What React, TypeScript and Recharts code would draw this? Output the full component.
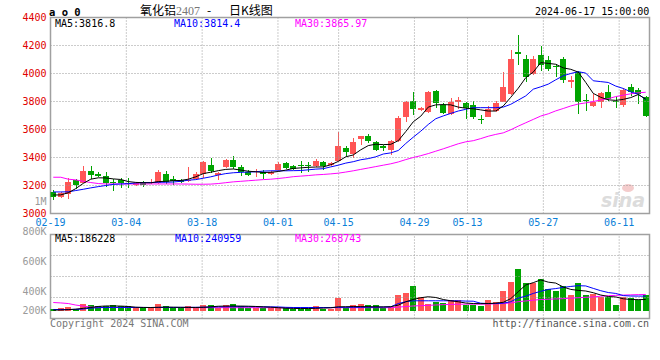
import { Bar, ComposedChart, Line, XAxis, YAxis } from "recharts"

// trading days of the 2407 contract, Feb 19 .. Jun 17
const dates = [
  "02-19", "02-20", "02-21", "02-22", "02-23",
  "02-26", "02-27", "02-28", "02-29", "03-01",
  "03-04", "03-05", "03-06", "03-07", "03-08",
  "03-11", "03-12", "03-13", "03-14", "03-15",
  "03-18", "03-19", "03-20", "03-21", "03-22",
  "03-25", "03-26", "03-27", "03-28", "03-29",
  "04-01", "04-02", "04-03",
  "04-08", "04-09", "04-10", "04-11", "04-12",
  "04-15", "04-16", "04-17", "04-18", "04-19",
  "04-22", "04-23", "04-24", "04-25", "04-26",
  "04-29", "04-30",
  "05-06", "05-07", "05-08", "05-09", "05-10",
  "05-13", "05-14", "05-15", "05-16", "05-17",
  "05-20", "05-21", "05-22", "05-23", "05-24",
  "05-27", "05-28", "05-29", "05-30", "05-31",
  "06-03", "06-04", "06-05", "06-06", "06-07",
  "06-11", "06-12", "06-13", "06-14",
  "06-17",
]
const tickDates = ["02-19", "03-04", "03-18", "04-01", "04-15", "04-29", "05-13", "05-27", "06-11"]

const open = [
  3152, 3120, 3139, 3240, 3221, 3305, 3283, 3269, 3228, 3240,
  3221, 3204, 3228, 3216, 3216, 3283, 3247, 3240, 3235, 3247,
  3281, 3348, 3272, 3331, 3384, 3329, 3293, 3293, 3300, 3281,
  3312, 3360, 3341, 3348, 3348, 3336, 3367, 3348, 3377, 3468,
  3427, 3533, 3557, 3509, 3485, 3451, 3516, 3691, 3804, 3738,
  3725, 3874, 3773, 3708, 3797, 3787, 3773, 3677, 3691, 3732,
  3797, 3852, 4152, 4104, 3996, 4133, 4097, 4056, 4104, 3936,
  4008, 3811, 3768, 3797, 3869, 3804, 3773, 3905, 3885, 3835,
]
const high = [
  3170, 3156, 3252, 3247, 3336, 3336, 3300, 3298, 3247, 3254,
  3252, 3228, 3235, 3245, 3312, 3305, 3271, 3247, 3329, 3300,
  3372, 3396, 3293, 3389, 3408, 3348, 3312, 3317, 3312, 3307,
  3365, 3365, 3348, 3377, 3367, 3389, 3377, 3367, 3581, 3485,
  3540, 3557, 3571, 3516, 3492, 3528, 3696, 3804, 3869, 3760,
  3878, 3881, 3787, 3823, 3833, 3799, 3804, 3701, 3768, 3804,
  4008, 4171, 4277, 4133, 4123, 4200, 4123, 4068, 4121, 3984,
  4020, 3852, 3852, 3871, 3917, 3840, 3900, 3925, 3900, 3840,
]
const low = [
  3098, 3108, 3101, 3173, 3216, 3247, 3264, 3192, 3163, 3185,
  3180, 3197, 3192, 3211, 3211, 3211, 3204, 3221, 3228, 3240,
  3252, 3288, 3240, 3324, 3317, 3271, 3269, 3264, 3247, 3276,
  3305, 3317, 3310, 3288, 3295, 3329, 3310, 3341, 3372, 3408,
  3396, 3492, 3504, 3450, 3444, 3420, 3511, 3653, 3701, 3730,
  3718, 3754, 3710, 3701, 3749, 3672, 3677, 3641, 3689, 3725,
  3797, 3845, 4061, 3941, 3991, 4020, 4020, 3972, 3931, 3893,
  3713, 3732, 3763, 3751, 3804, 3756, 3762, 3840, 3785, 3688,
]
const close = [
  3121, 3144, 3228, 3204, 3305, 3276, 3269, 3221, 3216, 3221,
  3211, 3216, 3204, 3226, 3300, 3228, 3235, 3228, 3242, 3283,
  3365, 3307, 3286, 3384, 3331, 3293, 3276, 3305, 3283, 3298,
  3355, 3322, 3317, 3341, 3336, 3377, 3336, 3360, 3485, 3437,
  3511, 3552, 3516, 3456, 3468, 3516, 3684, 3799, 3744, 3752,
  3869, 3787, 3720, 3797, 3811, 3756, 3689, 3672, 3749, 3787,
  3905, 4104, 4142, 3972, 4104, 4061, 4032, 4049, 3955, 3955,
  3797, 3802, 3797, 3864, 3816, 3797, 3880, 3870, 3855, 3695,
]
const ma5 = [
  3132, 3133, 3148, 3178, 3215, 3245, 3255, 3254, 3247, 3243,
  3228, 3222, 3220, 3219, 3228, 3230, 3235, 3236, 3245, 3262,
  3285, 3295, 3306, 3315, 3318, 3310, 3302, 3298, 3293, 3294,
  3300, 3310, 3322, 3326, 3330, 3332, 3333, 3348, 3372, 3405,
  3418, 3455, 3485, 3495, 3492, 3494, 3520, 3585, 3655, 3695,
  3760, 3776, 3778, 3776, 3760, 3752, 3748, 3740, 3732, 3732,
  3768, 3830, 3895, 3970, 4010, 4078, 4072, 4066, 4040, 4030,
  4010, 3936, 3858, 3830, 3812, 3808, 3815, 3828, 3850, 3816.8,
]
const ma10 = [
  3154, 3154, 3155, 3164, 3173, 3183, 3192, 3200, 3208, 3211,
  3213, 3218, 3221, 3221, 3223, 3223, 3225, 3230, 3238, 3242,
  3252, 3262, 3275, 3285, 3291, 3294, 3296, 3298, 3303, 3305,
  3305, 3305, 3306, 3307, 3312, 3317, 3320, 3333, 3345, 3360,
  3370, 3384, 3392, 3405, 3425, 3433, 3450, 3500, 3545, 3588,
  3636, 3677, 3697, 3715, 3732, 3744, 3756, 3756, 3756, 3756,
  3760, 3780, 3810, 3840, 3888, 3905, 3924, 3955, 3984, 4000,
  4013, 4003, 3948, 3942, 3936, 3910, 3893, 3869, 3852, 3814.4,
]
const ma30 = [
  3259, 3259, 3245, 3240, 3230, 3221, 3214, 3211, 3211, 3211,
  3211, 3211, 3211, 3211, 3211, 3211, 3211, 3211, 3210, 3209,
  3209, 3210, 3214, 3220, 3226, 3230, 3234, 3238, 3242, 3245,
  3250, 3256, 3263, 3267, 3271, 3276, 3279, 3283, 3288, 3296,
  3305, 3315, 3325, 3335, 3345, 3355, 3368, 3385, 3400, 3413,
  3428, 3445, 3462, 3480, 3498, 3512, 3520, 3535, 3552, 3565,
  3576, 3598, 3624, 3648, 3672, 3696, 3712, 3733, 3750, 3768,
  3782, 3790, 3800, 3811, 3820, 3835, 3845, 3855, 3862, 3865.97,
]

// volume in lots
const volume = [
  28000, 54000, 61000, 38000, 120000, 104000, 78000, 87000, 94000, 78000,
  78000, 50000, 50000, 50000, 120000, 78000, 50000, 50000, 87000, 50000,
  94000, 104000, 50000, 104000, 120000, 87000, 50000, 50000, 50000, 50000,
  50000, 50000, 38000, 38000, 38000, 78000, 38000, 38000, 215000, 54000,
  94000, 110000, 104000, 94000, 54000, 66000, 259000, 297000, 408000, 219000,
  110000, 148000, 132000, 177000, 177000, 104000, 104000, 78000, 177000, 148000,
  330000, 478000, 688000, 462000, 462000, 523000, 358000, 330000, 408000, 259000,
  462000, 259000, 276000, 219000, 231000, 94000, 219000, 203000, 186000, 259000,
]
const volMa5 = [
  12000, 14000, 20000, 28000, 42000, 55000, 72000, 80000, 80000, 78000,
  72000, 60000, 56000, 55000, 58000, 62000, 60000, 58000, 56000, 56000,
  58000, 66000, 76000, 78000, 80000, 78000, 76000, 72000, 66000, 60000,
  52000, 44000, 40000, 38000, 38000, 42000, 46000, 50000, 66000, 68000,
  70000, 70000, 68000, 66000, 65000, 68000, 94000, 149000, 186000, 215000,
  231000, 219000, 186000, 165000, 149000, 128000, 120000, 118000, 120000, 126000,
  140000, 200000, 314000, 424000, 462000, 507000, 470000, 455000, 390000, 351000,
  335000, 325000, 297000, 259000, 235000, 228000, 198000, 186000, 184000, 186228,
]
const volMa10 = [
  22000, 22000, 22000, 24000, 30000, 45000, 52000, 55000, 56000, 56000,
  56000, 56000, 56000, 55000, 56000, 56000, 56000, 57000, 58000, 58000,
  60000, 62000, 66000, 66000, 68000, 68000, 68000, 68000, 66000, 66000,
  64000, 58000, 55000, 55000, 55000, 55000, 55000, 55000, 58000, 58000,
  58000, 58000, 60000, 60000, 62000, 66000, 120000, 150000, 165000, 165000,
  165000, 165000, 165000, 165000, 165000, 160000, 158000, 125000, 120000, 120000,
  125000, 150000, 210000, 240000, 285000, 320000, 351000, 365000, 384000, 400000,
  412000, 408000, 368000, 330000, 300000, 285000, 250000, 243000, 242000, 240959,
]
const volMa30 = [
  137000, 130000, 120000, 95000, 78000, 62000, 56000, 55000, 55000, 55000,
  55000, 55000, 55000, 55000, 55000, 55000, 55000, 54000, 53000, 52000,
  52000, 52000, 52000, 52000, 52000, 52000, 52000, 52000, 52000, 52000,
  52000, 52000, 52000, 52000, 52000, 52000, 52000, 52000, 52000, 52000,
  52000, 52000, 52000, 52000, 52000, 52000, 62000, 70000, 80000, 85000,
  90000, 96000, 102000, 106000, 108000, 110000, 110000, 110000, 112000, 115000,
  120000, 130000, 150000, 162000, 175000, 186000, 190000, 195000, 200000, 208000,
  215000, 222000, 228000, 240000, 248000, 254000, 258000, 262000, 266000, 268743,
]

const priceTicks = [4400, 4200, 4000, 3800, 3600, 3400, 3200, 3000]
const priceGrid = [4200, 4000, 3800, 3600, 3400, 3200]
const volLabels = [1000000, 800000, 600000, 400000, 200000]

const RED = "#ff5555"
const GREEN = "#00a400"
const MONO = "'DejaVu Sans Mono', monospace"
const GRID = "#999999"
const DASH = "1 2"
const BODY = 6

const priceDomain = [3000, 4400]
const volDomain = [-125000, 1250000]
const volGrid = [1, 2, 3].map((k) => volDomain[1] - (k * (volDomain[1] - volDomain[0])) / 4)
const tickIdx = tickDates.map((d) => dates.indexOf(d))
const last = dates.length - 1
// candles sit on their own axis; date labels use a 0..last axis spanning the same width
const kDomain = [-0.37, dates.length - 0.5]
const toK = (t: number) => kDomain[0] + (t * (kDomain[1] - kDomain[0])) / last

const rows = dates.map((d, i) => ({
  i,
  date: d,
  open: open[i],
  high: high[i],
  low: low[i],
  close: close[i],
  ma5: ma5[i],
  ma10: ma10[i],
  ma30: ma30[i],
  vol: volume[i],
  vma5: volMa5[i],
  vma10: volMa10[i],
  vma30: volMa30[i],
}))

// grid segments expressed on the candle axis
const hSeg = (v: number) => [
  { i: kDomain[0], v },
  { i: kDomain[1], v },
]
const vSeg = (t: number, dom: number[]) => [
  { i: toK(t), v: dom[0] },
  { i: toK(t), v: dom[1] },
]

function Candle(props: any) {
  const { x, y, width, height, payload } = props
  const top = Math.min(y, y + height)
  const bottom = Math.max(y, y + height)
  const span = payload.high - payload.low
  const k = span > 0 ? (bottom - top) / span : 0
  const py = (v: number) => top + (payload.high - v) * k
  const up = payload.close >= payload.open
  const color = up ? RED : GREEN
  const cx = Math.round(x + (width || 0) / 2) + 0.5
  const bTop = py(Math.max(payload.open, payload.close))
  const bBot = py(Math.min(payload.open, payload.close))
  return (
    <g shapeRendering="crispEdges">
      <line x1={cx} x2={cx} y1={top} y2={bottom} stroke={color} strokeWidth={1} />
      <rect x={cx - 3.5} y={bTop} width={BODY} height={Math.max(1, bBot - bTop)} fill={color} />
    </g>
  )
}

function VolBar(props: any) {
  const { x, y, width, height, payload } = props
  const cx = Math.round(x + (width || 0) / 2) + 0.5
  return (
    <rect
      x={cx - 3.5}
      y={Math.min(y, y + height)}
      width={BODY}
      height={Math.abs(height)}
      fill={payload.close >= payload.open ? RED : GREEN}
      shapeRendering="crispEdges"
    />
  )
}

function fmtVol(v: number) {
  return v >= 1000000 ? v / 1000000 + "M" : v / 1000 + "K"
}

// y is in the volume chart's own coordinates; the lowest label sits on the panel floor
function VolTick(props: any) {
  const { x, y, payload } = props
  return (
    <text x={x} y={Math.min(y, 120)} dy="0.355em" textAnchor="end" fill="#9a9a9a" fontSize={10} fontFamily={MONO}>
      {fmtVol(payload.value)}
    </text>
  )
}

function gridLines(yAxisId: string, hValues: number[], dom: number[]) {
  const segs = [...hValues.map((v) => hSeg(v)), ...tickIdx.slice(1).map((t) => vSeg(t, dom))]
  return segs.map((seg, n) => (
    <Line
      key={yAxisId + n}
      xAxisId="k"
      yAxisId={yAxisId}
      data={seg}
      dataKey="v"
      stroke={GRID}
      strokeDasharray={DASH}
      strokeWidth={1}
      dot={false}
      isAnimationActive={false}
    />
  ))
}

function PriceChart() {
  return (
    <ComposedChart width={660} height={240} data={rows} margin={{ top: 17.5, right: 10.5, bottom: 6.5, left: 0 }}>
      <XAxis
        xAxisId="grid"
        type="number"
        dataKey="i"
        domain={[0, last]}
        ticks={tickIdx}
        interval={0}
        tickFormatter={(v) => dates[v]}
        height={20}
        tickSize={0}
        tickMargin={5}
        axisLine={false}
        tickLine={false}
        tick={{ fill: "#0a80d8", fontSize: 10, fontFamily: MONO }}
      />
      <XAxis xAxisId="k" type="number" dataKey="i" domain={kDomain} hide allowDataOverflow />
      <YAxis
        yAxisId="price"
        domain={priceDomain}
        ticks={priceTicks}
        interval={0}
        width={50.5}
        tickSize={0}
        tickMargin={4}
        axisLine={false}
        tickLine={false}
        allowDataOverflow
        tick={{ fill: "#e00000", fontSize: 10, fontFamily: MONO }}
      />
      {gridLines("price", priceGrid, priceDomain)}
      <Bar
        xAxisId="k"
        yAxisId="price"
        dataKey={(d: any) => [d.low, d.high]}
        barSize={BODY}
        shape={(p: any) => <Candle {...p} />}
        isAnimationActive={false}
      />
      <Line xAxisId="k" yAxisId="price" dataKey="ma30" stroke="#ff00ff" dot={false} strokeWidth={1} isAnimationActive={false} />
      <Line xAxisId="k" yAxisId="price" dataKey="ma10" stroke="#0000ff" dot={false} strokeWidth={1} isAnimationActive={false} />
      <Line xAxisId="k" yAxisId="price" dataKey="ma5" stroke="#000000" dot={false} strokeWidth={1} isAnimationActive={false} />
    </ComposedChart>
  )
}

function VolumeChart() {
  return (
    <ComposedChart width={660} height={140} data={rows} margin={{ top: 44.5, right: 10.5, bottom: 11.5, left: 0 }}>
      <XAxis xAxisId="k" type="number" dataKey="i" domain={kDomain} hide allowDataOverflow />
      <YAxis yAxisId="vol" domain={volDomain} hide allowDataOverflow />
      <YAxis
        yAxisId="lab"
        domain={[216667, 776667]}
        ticks={volLabels}
        interval={0}
        width={50.5}
        tickSize={0}
        tickMargin={4}
        axisLine={false}
        tickLine={false}
        allowDataOverflow
        tick={(p: any) => <VolTick {...p} />}
      />
      {gridLines("vol", volGrid, volDomain)}
      <Bar
        xAxisId="k"
        yAxisId="vol"
        dataKey="vol"
        barSize={BODY}
        shape={(p: any) => <VolBar {...p} />}
        isAnimationActive={false}
      />
      <Line xAxisId="k" yAxisId="vol" dataKey="vma30" stroke="#ff00ff" dot={false} strokeWidth={1} isAnimationActive={false} />
      <Line xAxisId="k" yAxisId="vol" dataKey="vma10" stroke="#0000ff" dot={false} strokeWidth={1} isAnimationActive={false} />
      <Line xAxisId="k" yAxisId="vol" dataKey="vma5" stroke="#000000" dot={false} strokeWidth={1} isAnimationActive={false} />
    </ComposedChart>
  )
}

export default function App() {
  const n = dates.length - 1
  return (
    <div style={{ position: "absolute", left: 0, top: 0, width: 660, height: 360, background: "#fff", overflow: "hidden" }}>
      <svg width={660} height={360} style={{ position: "absolute", left: 0, top: 0 }}>
        <g fill="none" stroke="#a0a0a0" strokeWidth={1.5}>
          <rect x={50.5} y={17.5} width={599} height={196} />
          <rect x={50.5} y={234.5} width={599} height={84} />
        </g>
        <text x={49} y={16} fontFamily={MONO} fontSize={10.5} fontWeight="bold" fill="#000">a o 0</text>
        <text y={15} fontSize={12} fill="#000">
          <tspan x={140} fontFamily="'Noto Sans CJK SC', sans-serif">氧化铝</tspan>
          <tspan fontFamily="'Liberation Serif', serif" fill="#777">2407</tspan>
          <tspan x={207} fontFamily="'Noto Sans CJK SC', sans-serif">-</tspan>
          <tspan x={229} fontFamily="'Noto Sans CJK SC', sans-serif">日K线图</tspan>
        </text>
        <text x={535} y={15} fontFamily={MONO} fontSize={10} fill="#000">2024-06-17 15:00:00</text>
        <text y={26.5} fontFamily={MONO} fontSize={10}>
          <tspan x={55} fill="#000">MA5:{ma5[n]}</tspan>
          <tspan x={174} fill="#0000ff">MA10:{ma10[n]}</tspan>
          <tspan x={295} fill="#ff00ff">MA30:{ma30[n]}</tspan>
        </text>
        <text y={242} fontFamily={MONO} fontSize={10}>
          <tspan x={55} fill="#000">MA5:{volMa5[n]}</tspan>
          <tspan x={175} fill="#0000ff">MA10:{volMa10[n]}</tspan>
          <tspan x={295} fill="#ff00ff">MA30:{volMa30[n]}</tspan>
        </text>
        <text x={50} y={327} fontFamily={MONO} fontSize={10} fill="#777">Copyright 2024 SINA.COM</text>
        <text x={649} y={327} textAnchor="end" fontFamily={MONO} fontSize={10} fill="#555">http://finance.sina.com.cn</text>
        <ellipse cx={628} cy={188} rx={6} ry={4} fill="#f4cccc" />
        <text x={601} y={207} fontFamily="'DejaVu Sans', sans-serif" fontSize={19} fontWeight="bold" fontStyle="italic" fill="#dcdcdc">sina</text>
      </svg>
      <div style={{ position: "absolute", left: 0, top: 0 }}>
        <PriceChart />
      </div>
      <div style={{ position: "absolute", left: 0, top: 190 }}>
        <VolumeChart />
      </div>
    </div>
  )
}
